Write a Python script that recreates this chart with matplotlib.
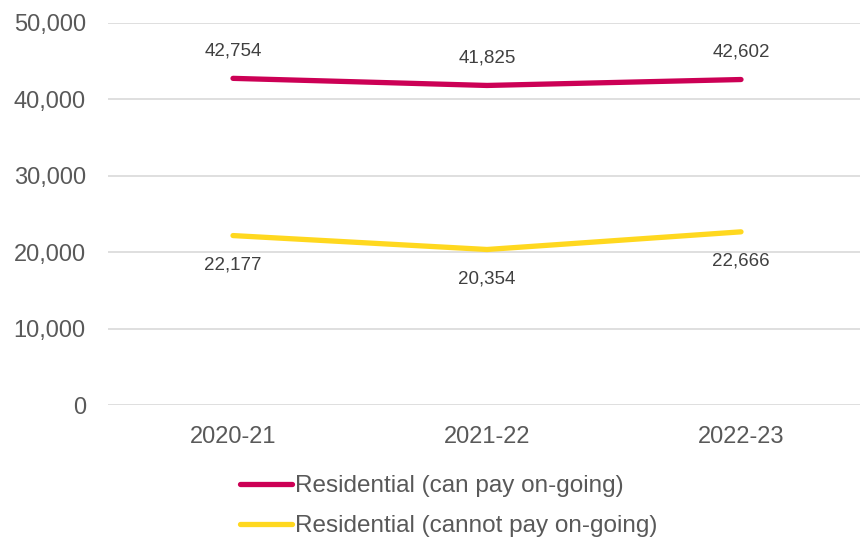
import numpy as np
import matplotlib.pyplot as plt
from matplotlib.ticker import FuncFormatter

years = ['2020-21', '2021-22', '2022-23']
can_pay = [42754, 41825, 42602]
cannot_pay = [22177, 20354, 22666]

grey = '#595959'
crimson = '#CC0055'
yellow = '#FFD81F'

plt.rcParams['font.family'] = ['Liberation Sans', 'DejaVu Sans']

fig = plt.figure(figsize=(8.6, 5.45), dpi=100)
ax = fig.add_axes([108/860, 1-405/545, (860-108)/860, (405-23)/545])

x = np.arange(len(years))
l1, = ax.plot(x, can_pay, color=crimson, lw=3.8, solid_capstyle='round',
              label='Residential (can pay on-going)')
l2, = ax.plot(x, cannot_pay, color=yellow, lw=3.8, solid_capstyle='round',
              label='Residential (cannot pay on-going)')

for i in range(len(years)):
    ax.annotate('{:,}'.format(can_pay[i]), (x[i], can_pay[i]), xytext=(0, 20),
                textcoords='offset points', ha='center', va='center',
                fontsize=13.5, color='#404040')
    ax.annotate('{:,}'.format(cannot_pay[i]), (x[i], cannot_pay[i]), xytext=(0, -21),
                textcoords='offset points', ha='center', va='center',
                fontsize=13.5, color='#404040')

ax.set_ylim(0, 50000)
ax.set_xlim(-125/254, 627/254)
ax.set_yticks(range(0, 50001, 10000))
ax.yaxis.set_major_formatter(FuncFormatter(lambda v, p: '{:,}'.format(int(v))))
ax.set_xticks(x)
ax.set_xticklabels(years)
ax.tick_params(axis='both', length=0, labelsize=17, colors=grey)
ax.tick_params(axis='y', pad=16)
ax.tick_params(axis='x', pad=15)
ax.grid(axis='y', color='#D9D9D9', lw=1.2)
ax.set_axisbelow(True)
for s in ax.spines.values():
    s.set_visible(False)

leg = fig.legend(handles=[l1, l2], loc='upper left', bbox_to_anchor=(240/860, 1-475/545),
                 frameon=False, fontsize=17.5, handlelength=2.15, handletextpad=0.1,
                 labelspacing=0.75, borderaxespad=0, borderpad=0)
for t in leg.get_texts():
    t.set_color(grey)

fig.savefig('out.png', dpi=100)
